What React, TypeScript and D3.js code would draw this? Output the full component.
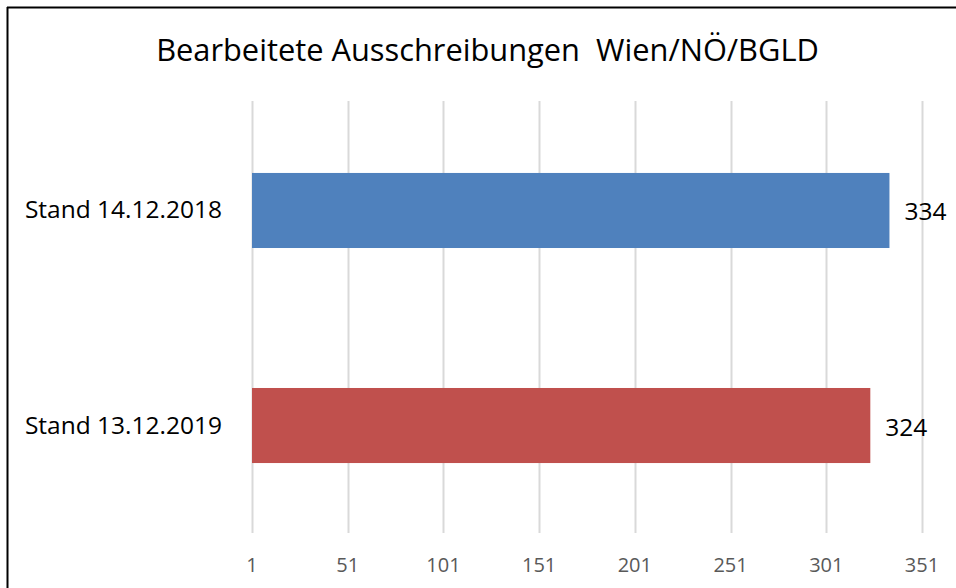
import React from "react";
import * as d3 from "d3";

const title = "Bearbeitete Ausschreibungen  Wien/NÖ/BGLD";
const categories = ["Stand 14.12.2018", "Stand 13.12.2019"];
const values = [334, 324];
const colors = ["#4F81BD", "#C0504D"];
const tickValues = [1, 51, 101, 151, 201, 251, 301, 351];

const W = 956;
const H = 588;
const FONT = "'Open Sans', 'Noto Sans', sans-serif";

export default function App() {
  const x = d3.scaleLinear().domain([1, 351]).range([252, 922]);
  const y = d3.scaleBand().domain(categories).range([102, 534]).paddingInner(0.651).paddingOuter(0.33);

  return (
    <svg width={W} height={H} style={{ position: "absolute", left: 0, top: 0, background: "#fff" }}>
      <rect x={0} y={0} width={W} height={H} fill="#fff" />
      <line x1={7.5} y1={7} x2={7.5} y2={H} stroke="#000" strokeWidth={2} />
      <line x1={7} y1={7.5} x2={W} y2={7.5} stroke="#000" strokeWidth={2} />
      <text x={487.5} y={61} textAnchor="middle" fontFamily={FONT} fontSize={30.8} fill="#000" style={{ whiteSpace: "pre" }}>
        {title}
      </text>
      {tickValues.map((t) => (
        <g key={t}>
          <line x1={Math.round(x(t)) + 0.5} x2={Math.round(x(t)) + 0.5} y1={101} y2={533} stroke="#D9D9D9" strokeWidth={2} />
          <text x={x(t)} y={572} textAnchor="middle" fontFamily={FONT} fontSize={20} fill="#595959">
            {t}
          </text>
        </g>
      ))}
      {categories.map((c, i) => (
        <g key={c}>
          <rect x={x(1)} y={y(c)} width={x(values[i]) - x(1)} height={y.bandwidth()} fill={colors[i]} />
          <text x={222} y={(y(c) as number) + y.bandwidth() / 2 + 8} textAnchor="end" fontFamily={FONT} fontSize={24.5} fill="#000">
            {c}
          </text>
          <text x={x(values[i]) + 15} y={(y(c) as number) + y.bandwidth() / 2 + 10} textAnchor="start" fontFamily={FONT} fontSize={24.5} fill="#000">
            {values[i]}
          </text>
        </g>
      ))}
    </svg>
  );
}
